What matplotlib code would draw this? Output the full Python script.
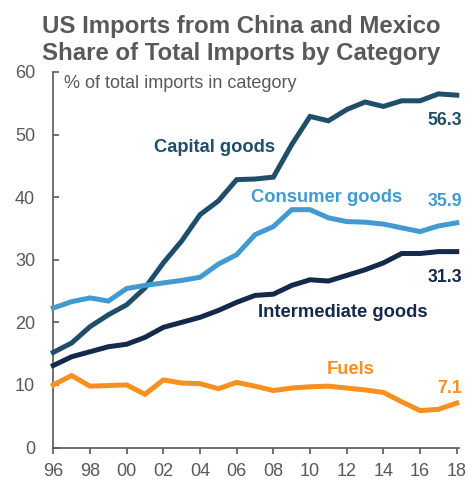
import matplotlib

matplotlib.use("Agg")
import matplotlib.pyplot as plt

# Share of US imports sourced from China + Mexico, by end-use category (%)
years = list(range(1996, 2019))
capital = [15.2, 16.7, 19.3, 21.2, 22.8, 25.5, 29.5, 33.0, 37.2, 39.4, 42.8, 42.9, 43.2,
           48.4, 52.9, 52.2, 54.0, 55.2, 54.5, 55.4, 55.4, 56.5, 56.3]
consumer = [22.3, 23.3, 23.9, 23.4, 25.4, 25.9, 26.3, 26.7, 27.2, 29.3, 30.8, 34.0, 35.3,
            38.0, 38.0, 36.7, 36.1, 36.0, 35.7, 35.1, 34.5, 35.4, 35.9]
intermediate = [13.1, 14.5, 15.3, 16.1, 16.5, 17.6, 19.2, 20.0, 20.8, 21.9, 23.2, 24.3, 24.5,
                25.9, 26.8, 26.6, 27.5, 28.4, 29.5, 31.0, 31.0, 31.3, 31.3]
fuels = [10.0, 11.5, 9.8, 9.9, 10.0, 8.5, 10.8, 10.3, 10.2, 9.4, 10.4, 9.8, 9.1,
         9.5, 9.7, 9.8, 9.5, 9.2, 8.8, 7.3, 5.9, 6.1, 7.1]

series_names = ["Capital goods", "Consumer goods", "Intermediate goods", "Fuels"]
series_values = [capital, consumer, intermediate, fuels]
colors = ["#1f4e6b", "#419bd0", "#14294b", "#f7901e"]

x_ticks = list(range(1996, 2019, 2))
x_ticklabels = [f"{y % 100:02d}" for y in x_ticks]
y_ticks = [0, 10, 20, 30, 40, 50, 60]

GREY = "#595959"
FONT = ["Liberation Sans", "DejaVu Sans"]
plt.rcParams["font.family"] = FONT

fig = plt.figure(figsize=(4.66, 4.8), dpi=100)
ax = fig.add_axes([53.3 / 466, 1 - 447.5 / 480, 405.3 / 466, 375.5 / 480])

for vals, col in zip(series_values, colors):
    ax.plot(years, vals, color=col, lw=3.6, solid_joinstyle="miter", zorder=3,
            clip_on=False)

# series names placed beside their lines
label_pos = [(2004.8, 48.0), (2010.9, 39.9), (2011.8, 21.6), (2012.2, 12.5)]
for name, (lx, ly), col in zip(series_names, label_pos, colors):
    ax.text(lx, ly, name, color=col, fontsize=13.2, fontweight="bold",
            ha="center", va="center")

# last-value labels at the right edge
end_offsets = [-4.0, 3.4, -4.1, 2.4]
for vals, off, col in zip(series_values, end_offsets, colors):
    ax.text(years[-1] + 0.3, vals[-1] + off, f"{vals[-1]:.1f}", color=col,
            fontsize=12.8, fontweight="bold", ha="right", va="center")

ax.text(0.026, 58.1, "% of total imports in category", color=GREY, fontsize=13,
        ha="left", va="center", transform=ax.get_yaxis_transform())

ax.set_xlim(1996, 2018.1)
ax.set_ylim(0, 60)
ax.set_xticks(x_ticks)
ax.set_xticklabels(x_ticklabels)
ax.set_yticks(y_ticks)

for side in ("top", "right"):
    ax.spines[side].set_visible(False)
for side in ("left", "bottom"):
    ax.spines[side].set_color(GREY)
    ax.spines[side].set_linewidth(1.2)
ax.tick_params(axis="y", direction="in", length=4, width=1.2, color=GREY,
               labelcolor=GREY, labelsize=13, pad=13)
ax.tick_params(axis="x", direction="out", length=4, width=1.2, color=GREY,
               labelcolor=GREY, labelsize=13, pad=7)

fig.text(0.517, 1 - 33 / 480, "US Imports from China and Mexico", color=GREY,
         fontsize=17.3, fontweight="bold", ha="center", va="baseline")
fig.text(0.517, 1 - 60 / 480, "Share of Total Imports by Category", color=GREY,
         fontsize=17.3, fontweight="bold", ha="center", va="baseline")

fig.savefig("out.png", dpi=100, facecolor="white")
